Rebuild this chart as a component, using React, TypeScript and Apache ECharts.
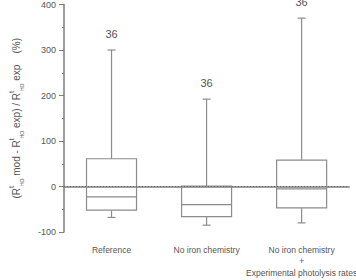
import React, { useEffect, useRef } from "react";
import * as echarts from "echarts";

// Scenario names on the category axis
const categories = [
  "Reference",
  "No iron chemistry",
  "No iron chemistry\n+\nExperimental photolysis rates",
];
// Box statistics per scenario (%)
const whiskerLow = [-68, -85, -80];
const quartile1 = [-52, -66, -47];
const medians = [-23, -40, -5];
const quartile3 = [61, 1, 58];
const whiskerHigh = [300, 192, 370];
// Number of points behind each box
const counts = [36, 36, 36];

const yTicks = { min: -100, max: 400, interval: 100 };

const FONT = "'Liberation Sans', Arial, sans-serif";
const AXIS_COLOR = "#7d7d7d";
const BOX_COLOR = "#8c8c8c";
const TEXT_COLOR = "#555";

export default function App() {
  const ref = useRef<HTMLDivElement>(null);

  useEffect(() => {
    if (!ref.current) return;
    document.body.style.margin = "0";
    const chart = echarts.init(ref.current, null, { renderer: "svg" });

    const data = categories.map((_, i) => [
      i,
      whiskerLow[i],
      quartile1[i],
      medians[i],
      quartile3[i],
      whiskerHigh[i],
      counts[i],
    ]);

    const renderBox = (params: any, api: any) => {
      const idx = api.value(0);
      const x = api.coord([idx, 0])[0];
      const y = (v: number) => api.coord([idx, v])[1];
      const yLow = y(api.value(1));
      const yQ1 = y(api.value(2));
      const yMed = y(api.value(3));
      const yQ3 = y(api.value(4));
      const yHigh = y(api.value(5));
      const half = 25;
      const cap = 4;
      const ls = { stroke: BOX_COLOR, lineWidth: 1.2, fill: "none" };
      return {
        type: "group",
        children: [
          { type: "line", shape: { x1: x, y1: yQ3, x2: x, y2: yHigh }, style: ls },
          { type: "line", shape: { x1: x, y1: yQ1, x2: x, y2: yLow }, style: ls },
          { type: "line", shape: { x1: x - cap, y1: yHigh, x2: x + cap, y2: yHigh }, style: ls },
          { type: "line", shape: { x1: x - cap, y1: yLow, x2: x + cap, y2: yLow }, style: ls },
          {
            type: "rect",
            shape: { x: x - half, y: yQ3, width: half * 2, height: yQ1 - yQ3 },
            style: { stroke: BOX_COLOR, lineWidth: 1.2, fill: "rgba(255,255,255,0)" },
          },
          { type: "line", shape: { x1: x - half, y1: yMed, x2: x + half, y2: yMed }, style: ls },
          {
            type: "text",
            style: {
              text: String(api.value(6)),
              x,
              y: yHigh - 16,
              align: "center",
              verticalAlign: "middle",
              fill: TEXT_COLOR,
              fontSize: 11,
              fontFamily: FONT,
            },
          },
        ],
      };
    };

    chart.setOption({
      animation: false,
      grid: { left: 53, top: 4, width: 310, height: 228, containLabel: false },
      xAxis: {
        type: "category",
        data: categories,
        axisLine: { lineStyle: { color: AXIS_COLOR, width: 1.5 } },
        axisTick: { alignWithLabel: true, length: 4, lineStyle: { color: AXIS_COLOR } },
        axisLabel: {
          color: TEXT_COLOR,
          fontSize: 8.5,
          lineHeight: 11.5,
          fontFamily: FONT,
          margin: 12,
          interval: 0,
        },
        splitLine: { show: false },
      },
      yAxis: {
        type: "value",
        min: yTicks.min,
        max: yTicks.max,
        interval: yTicks.interval,
        axisLine: { show: true, lineStyle: { color: AXIS_COLOR, width: 1.5 } },
        axisTick: { show: true, length: 5, lineStyle: { color: AXIS_COLOR } },
        minorTick: { show: true, splitNumber: 2, length: 2, lineStyle: { color: AXIS_COLOR } },
        axisLabel: { color: TEXT_COLOR, fontSize: 9, fontFamily: FONT, margin: 8 },
        splitLine: { show: false },
        name:
          "{t|(R}{sup|t}{sub|HO}{t| mod - R}{sup|t}{sub|HO}{t| exp) / R}{sup|t}{sub|HO}{t| exp    (%)}",
        nameLocation: "middle",
        nameRotate: 90,
        nameGap: 40,
        nameTextStyle: {
          rich: {
            t: { fontSize: 10, fontFamily: FONT, color: TEXT_COLOR, lineHeight: 16, verticalAlign: "middle" },
            sup: { fontSize: 7, fontFamily: FONT, color: TEXT_COLOR, lineHeight: 16, verticalAlign: "top" },
            sub: { fontSize: 5, fontFamily: FONT, color: TEXT_COLOR, lineHeight: 16, verticalAlign: "bottom" },
          },
        },
      },
      series: [
        {
          type: "custom",
          renderItem: renderBox,
          data,
          encode: { x: 0, y: [1, 2, 3, 4, 5] },
          clip: false,
          silent: true,
          markLine: {
            silent: true,
            symbol: "none",
            label: { show: false },
            lineStyle: { color: "#666", type: [1, 2], width: 1 },
            data: [{ yAxis: 0 }],
          },
        },
      ],
    });

    return () => chart.dispose();
  }, []);

  return <div ref={ref} style={{ width: 356, height: 280 }} />;
}
